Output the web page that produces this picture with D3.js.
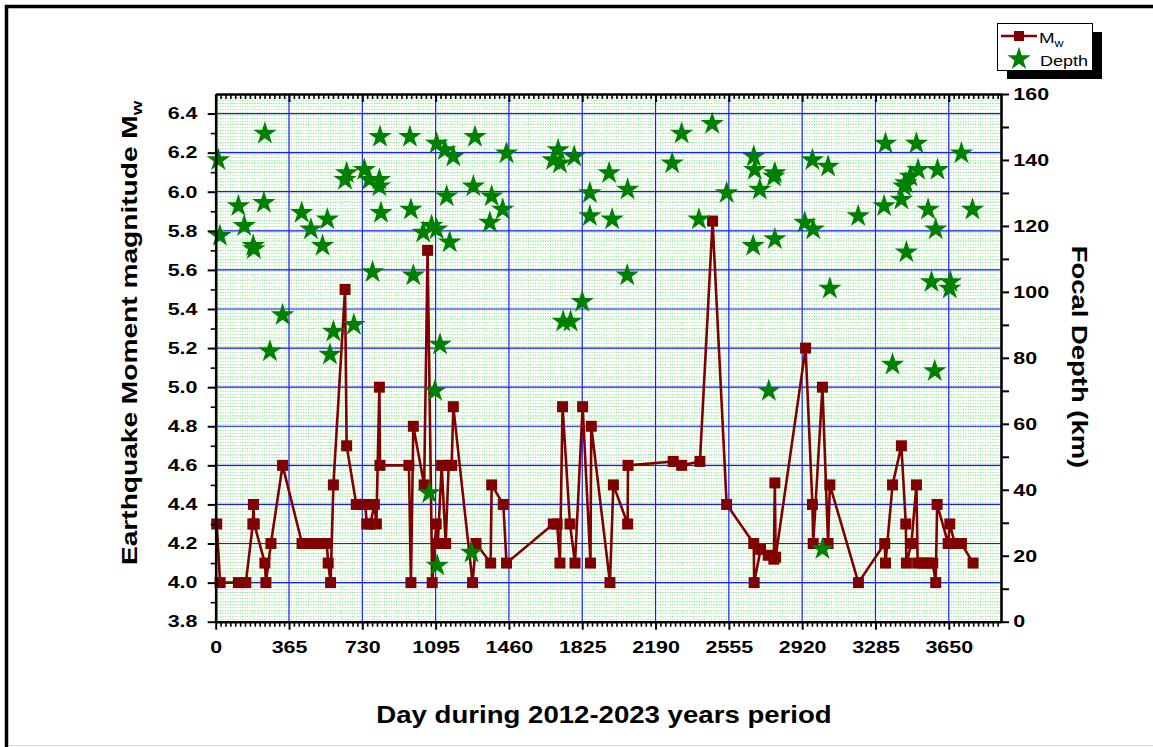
<!DOCTYPE html>
<html>
<head>
<meta charset="utf-8">
<script src="https://cdn.jsdelivr.net/npm/d3@7"></script>
<style>
  body { margin: 0; background: #fff; }
  svg { display: block; font-family: "Liberation Sans", Arial, sans-serif; }
</style>
</head>
<body>
<svg id="chart" width="1153" height="747"></svg>
<script>
// Mw series (day, magnitude), in time order
const mwDays = [5, 22, 113, 150, 185, 188, 192, 245, 250, 275, 333, 430, 455, 480, 505, 530, 553, 560, 572, 586,
  644, 652, 700, 720, 745, 752, 770, 790, 800, 815, 818, 962, 972, 984, 1038, 1055, 1078, 1098, 1106, 1125,
  1145, 1160, 1175, 1183, 1279, 1296, 1369, 1374, 1432, 1448, 1681, 1700, 1714, 1727, 1764, 1789, 1827, 1866, 1870, 1963,
  1980, 2051, 2053, 2278, 2320, 2411, 2474, 2544, 2679, 2681, 2713, 2751, 2779, 2784, 2788, 2937, 2971, 2975, 3021, 3049,
  3058, 3200, 3331, 3335, 3370, 3414, 3436, 3439, 3464, 3489, 3495, 3520, 3545, 3570, 3585, 3592, 3647, 3655, 3680, 3713, 3771];
const mwValues = [4.3, 4.0, 4.0, 4.0, 4.3, 4.4, 4.3, 4.1, 4.0, 4.2, 4.6, 4.2, 4.2, 4.2, 4.2, 4.2, 4.2, 4.1, 4.0, 4.5,
  5.5, 4.7, 4.4, 4.4, 4.4, 4.3, 4.3, 4.4, 4.3, 5.0, 4.6, 4.6, 4.0, 4.8, 4.5, 5.7, 4.0, 4.3, 4.2, 4.6,
  4.2, 4.6, 4.6, 4.9, 4.0, 4.2, 4.1, 4.5, 4.4, 4.1, 4.3, 4.3, 4.1, 4.9, 4.3, 4.1, 4.9, 4.1, 4.8, 4.0,
  4.5, 4.3, 4.6, 4.62, 4.6, 4.62, 5.85, 4.4, 4.2, 4.0, 4.17, 4.14, 4.12, 4.51, 4.13, 5.2, 4.4, 4.2, 5.0, 4.2,
  4.5, 4.0, 4.2, 4.1, 4.5, 4.7, 4.3, 4.1, 4.2, 4.5, 4.1, 4.1, 4.1, 4.1, 4.0, 4.4, 4.2, 4.3, 4.2, 4.2, 4.1];

// focal depth (day, km)
const depthDays = [13, 21, 113, 142, 187, 190, 240, 245, 270, 333, 428, 474, 532, 556, 569, 586, 644, 652, 688, 740,
  765, 781, 815, 815, 818, 823, 967, 972, 984, 1033, 1063, 1075, 1092, 1100, 1100, 1103, 1117, 1141, 1150, 1165,
  1183, 1274, 1283, 1291, 1365, 1374, 1429, 1448, 1680, 1705, 1714, 1730, 1767, 1785, 1825, 1863, 1863, 1959, 1974, 2049,
  2051, 2273, 2320, 2406, 2472, 2544, 2676, 2679, 2684, 2709, 2754, 2779, 2784, 2784, 2933, 2971, 2975, 3021, 3049, 3058,
  3199, 3328, 3335, 3370, 3414, 3426, 3436, 3439, 3459, 3489, 3497, 3547, 3564, 3580, 3585, 3594, 3655, 3658, 3713, 3768];
const depthValues = [140, 117, 126, 120, 114, 113, 127, 148, 82, 93, 124, 119, 114, 122, 81, 88, 134, 136, 90, 137,
  134, 106, 134, 132, 147, 124, 147, 125, 105, 118, 39, 120, 70, 119, 145, 17, 84, 143, 129, 115,
  141, 21, 132, 147, 121, 129, 125, 142, 140, 143, 139, 91, 91, 141, 97, 130, 123, 136, 122, 105,
  131, 139, 148, 122, 151, 130, 114, 141, 137, 131, 70, 135, 136, 116, 121, 140, 119, 22, 138, 101,
  123, 126, 145, 78, 128, 132, 133, 112, 135, 145, 137, 125, 103, 76, 119, 137, 101, 103, 142, 125];

const dayTicks = [0, 365, 730, 1095, 1460, 1825, 2190, 2555, 2920, 3285, 3650];
const mwTicks = [3.8, 4.0, 4.2, 4.4, 4.6, 4.8, 5.0, 5.2, 5.4, 5.6, 5.8, 6.0, 6.2, 6.4];
const depthTicks = [0, 20, 40, 60, 80, 100, 120, 140, 160];

const svg = d3.select("#chart");
const plot = { left: 215.7, right: 1001, top: 94, bottom: 621.7 };
const stretch = 1.3;

const x = d3.scaleLinear().domain([0, 3910]).range([plot.left, plot.right]);
const yMw = d3.scaleLinear().domain([3.8, 6.5]).range([plot.bottom, plot.top]);
const yDepth = d3.scaleLinear().domain([0, 160]).range([plot.bottom, plot.top]);

// outer frame
svg.append("path")
  .attr("d", "M6.5,747 V6.5 H1153")
  .attr("fill", "none").attr("stroke", "#000").attr("stroke-width", 3.5);
svg.append("line")
  .attr("x1", 8).attr("x2", 1153).attr("y1", 745.5).attr("y2", 745.5)
  .attr("stroke", "#d8d8d8").attr("stroke-width", 1);

// minor green grid
const grid = svg.append("g");
grid.selectAll(".vminor")
  .data(d3.range(365 / 30, 3910, 365 / 30))
  .join("line")
  .attr("x1", d => x(d)).attr("x2", d => x(d))
  .attr("y1", plot.top).attr("y2", plot.bottom)
  .attr("stroke", "#86ec86").attr("stroke-width", 1).attr("stroke-dasharray", "1,2");
grid.selectAll(".hminor")
  .data(d3.range(3.85, 6.5, 0.05))
  .join("line")
  .attr("x1", plot.left).attr("x2", plot.right)
  .attr("y1", d => yMw(d)).attr("y2", d => yMw(d))
  .attr("stroke", "#86ec86").attr("stroke-width", 1).attr("stroke-dasharray", "1,2");

// major blue grid
grid.selectAll(".vmajor")
  .data(dayTicks.slice(1))
  .join("line")
  .attr("x1", d => x(d)).attr("x2", d => x(d))
  .attr("y1", plot.top).attr("y2", plot.bottom)
  .attr("stroke", "#1a1aff").attr("stroke-width", 1.2);
grid.selectAll(".hmajor")
  .data(mwTicks.slice(1))
  .join("line")
  .attr("x1", plot.left).attr("x2", plot.right)
  .attr("y1", d => yMw(d)).attr("y2", d => yMw(d))
  .attr("stroke", "#1a1aff").attr("stroke-width", 1.2);

// Mw line + squares
const mwData = mwDays.map((d, i) => ({ day: d, mw: mwValues[i] }));
const mwLine = d3.line().x(d => x(d.day)).y(d => yMw(d.mw));
svg.append("path")
  .datum(mwData)
  .attr("fill", "none")
  .attr("stroke", "#800000")
  .attr("stroke-width", 2.6)
  .attr("stroke-linejoin", "round")
  .attr("d", mwLine);
svg.append("g")
  .selectAll("rect")
  .data(mwData)
  .join("rect")
  .attr("x", d => x(d.day) - 5.5)
  .attr("y", d => yMw(d.mw) - 5.5)
  .attr("width", 11).attr("height", 11)
  .attr("fill", "#800000");

// depth stars
const star = d3.symbol().type(d3.symbolStar).size(170);
svg.append("g")
  .selectAll("path")
  .data(depthDays.map((d, i) => ({ day: d, depth: depthValues[i] })))
  .join("path")
  .attr("transform", d => `translate(${x(d.day)},${yDepth(d.depth)})`)
  .attr("d", star)
  .attr("fill", "#008000");

// axes
function styleAxis(g) {
  g.select(".domain").attr("stroke-width", 2.6);
  g.selectAll(".tick line").attr("stroke-width", 2);
  g.selectAll("text")
    .attr("font-size", 16.5)
    .attr("font-weight", "bold")
    .attr("fill", "#000")
    .attr("font-family", "'Liberation Sans', Arial, sans-serif");
}

// minor ticks first
const dayMinor = d3.range(0, 3910, 365 / 15).filter(d => Math.abs(d / 365 - Math.round(d / 365)) > 1e-6);
svg.append("g")
  .attr("transform", `translate(0,${plot.bottom})`)
  .call(d3.axisBottom(x).tickValues(dayMinor).tickSize(5).tickFormat(""))
  .call(g => { g.select(".domain").remove(); g.selectAll("line").attr("stroke-width", 1.6); });
svg.append("g")
  .attr("transform", `translate(0,${plot.top})`)
  .call(d3.axisBottom(x).tickValues(dayMinor).tickSize(5).tickFormat(""))
  .call(g => { g.select(".domain").remove(); g.selectAll("line").attr("stroke-width", 1.6); });
svg.append("g")
  .attr("transform", `translate(${plot.left},0)`)
  .call(d3.axisLeft(yMw).tickValues(d3.range(3.9, 6.5, 0.2)).tickSize(5).tickFormat(""))
  .call(g => { g.select(".domain").remove(); g.selectAll("line").attr("stroke-width", 1.6); });
svg.append("g")
  .attr("transform", `translate(${plot.right},0)`)
  .call(d3.axisRight(yDepth).tickValues(d3.range(10, 160, 20)).tickSize(8).tickFormat(""))
  .call(g => { g.select(".domain").remove(); g.selectAll("line").attr("stroke-width", 2); });

// bottom
svg.append("g")
  .attr("transform", `translate(0,${plot.bottom})`)
  .call(d3.axisBottom(x).tickValues(dayTicks).tickSize(8).tickPadding(12).tickSizeOuter(0).tickFormat(d3.format("d")))
  .call(styleAxis)
  .call(g => g.selectAll("text").attr("transform", `scale(${stretch},1)`));
// top (ticks inward)
svg.append("g")
  .attr("transform", `translate(0,${plot.top})`)
  .call(d3.axisBottom(x).tickValues(dayTicks).tickSize(8).tickFormat("").tickSizeOuter(0))
  .call(styleAxis);
// left
svg.append("g")
  .attr("transform", `translate(${plot.left},0)`)
  .call(d3.axisLeft(yMw).tickValues(mwTicks).tickSize(8).tickPadding(6).tickSizeOuter(0).tickFormat(d3.format(".1f")))
  .call(styleAxis)
  .call(g => g.selectAll("text").attr("transform", `scale(${stretch},1)`));
// right
svg.append("g")
  .attr("transform", `translate(${plot.right},0)`)
  .call(d3.axisRight(yDepth).tickValues(depthTicks).tickSize(8).tickPadding(1.5).tickSizeOuter(0).tickFormat(d3.format("d")))
  .call(styleAxis)
  .call(g => g.selectAll("text").attr("transform", `scale(${stretch},1)`));

// axis titles
svg.append("text")
  .attr("transform", `translate(137,${(plot.top + plot.bottom) / 2 - 25}) rotate(-90) scale(1.25,1)`)
  .attr("text-anchor", "middle")
  .attr("font-size", 22.5).attr("font-weight", "bold")
  .call(t => {
    t.append("tspan").text("Earthquake Moment magnitude M");
    t.append("tspan").attr("font-size", 15).attr("dy", 5).text("w");
  });

svg.append("text")
  .attr("transform", `translate(1072,357) rotate(90) scale(1.22,1)`)
  .attr("text-anchor", "middle")
  .attr("font-size", 22.5).attr("font-weight", "bold")
  .text("Focal Depth (km)");

svg.append("text")
  .attr("transform", `translate(604,723) scale(1.2,1)`)
  .attr("text-anchor", "middle")
  .attr("font-size", 23).attr("font-weight", "bold")
  .text("Day during 2012-2023 years period");

// legend
const lg = svg.append("g");
lg.append("rect").attr("x", 1007).attr("y", 32).attr("width", 95).attr("height", 47).attr("fill", "#000");
lg.append("rect").attr("x", 997.5).attr("y", 23.5).attr("width", 95).attr("height", 47)
  .attr("fill", "#fff").attr("stroke", "#000").attr("stroke-width", 1);
lg.append("line").attr("x1", 1001).attr("x2", 1037).attr("y1", 36).attr("y2", 36)
  .attr("stroke", "#800000").attr("stroke-width", 2.6);
lg.append("rect").attr("x", 1014).attr("y", 31).attr("width", 10).attr("height", 10).attr("fill", "#800000");
lg.append("text").attr("transform", "translate(1039,43) scale(1.25,1)")
  .attr("font-size", 15)
  .call(t => {
    t.append("tspan").text("M");
    t.append("tspan").attr("font-size", 10).attr("dy", 4).text("w");
  });
lg.append("path").attr("transform", "translate(1019,59)").attr("d", star).attr("fill", "#008000");
lg.append("text").attr("transform", "translate(1040,66) scale(1.2,1)")
  .attr("font-size", 15)
  .text("Depth");
</script>
</body>
</html>
